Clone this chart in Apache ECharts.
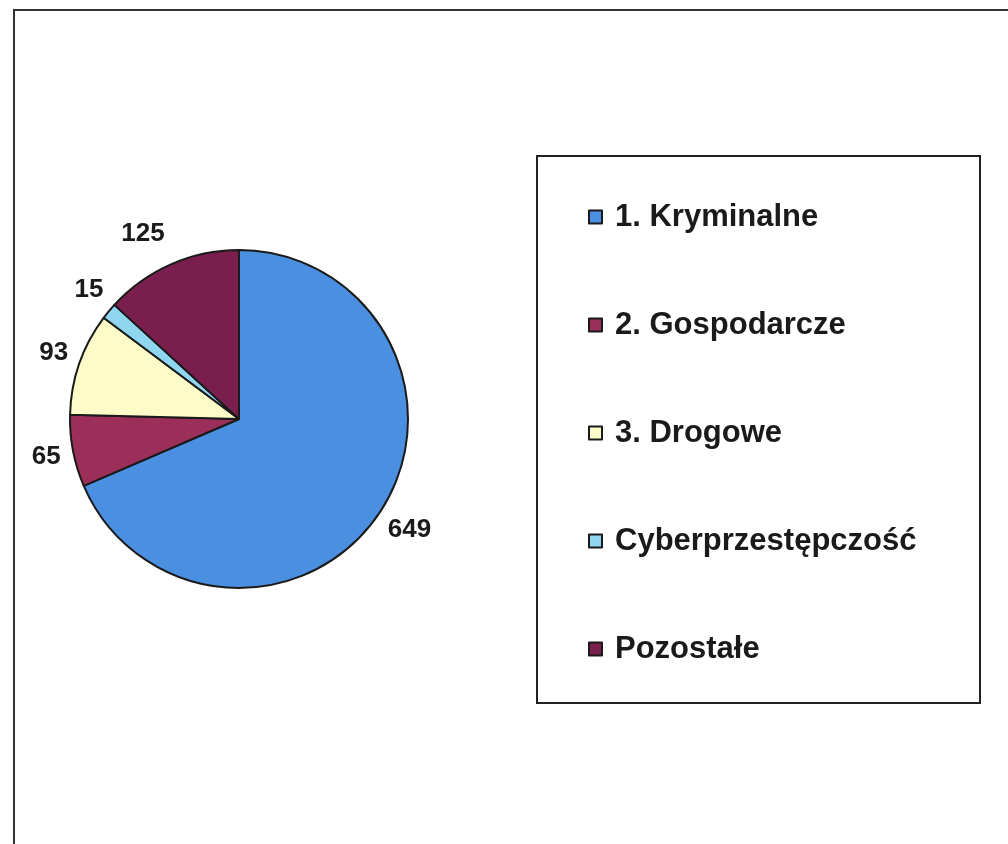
<!DOCTYPE html>
<html>
<head>
<meta charset="utf-8">
<script src="https://cdn.jsdelivr.net/npm/echarts@6/dist/echarts.min.js"></script>
<style>
  html, body { margin: 0; padding: 0; background: #fff; }
  #chart { width: 1008px; height: 844px; }
</style>
</head>
<body>
<div id="chart"></div>
<script>
const categories = ['1. Kryminalne', '2. Gospodarcze', '3. Drogowe', 'Cyberprzestępczość', 'Pozostałe']
const values = [649, 65, 93, 15, 125]
const colors = ['#4b8fe0', '#9c2f5a', '#fdfcc8', '#8fd6f0', '#7a1e4e']

const chart = echarts.init(document.getElementById('chart'))

chart.setOption({
  animation: false,
  color: colors,
  graphic: [
    // outer chart frame (runs off the right and bottom edges)
    { type: 'rect', shape: { x: 14, y: 10, width: 1100, height: 900 }, style: { fill: 'none', stroke: '#333', lineWidth: 2 } },
    // legend box
    { type: 'rect', shape: { x: 537, y: 156, width: 443, height: 547 }, style: { fill: 'none', stroke: '#222', lineWidth: 2 } },
  ],
  legend: {
    orient: 'vertical',
    left: 588,
    top: 201,
    padding: 0,
    itemGap: 76,
    itemWidth: 13,
    itemHeight: 13,
    icon: 'rect',
    selectedMode: false,
    itemStyle: { borderWidth: 2 },
    textStyle: {
      fontFamily: 'Liberation Sans, Arial, sans-serif',
      fontSize: 31,
      fontWeight: 'bold',
      color: '#1a1a1a',
      lineHeight: 32,
      padding: [0, 0, 0, 8],
    },
  },
  series: [{
    type: 'pie',
    center: [239, 419],
    radius: 169,
    startAngle: 90,
    clockwise: true,
    avoidLabelOverlap: false,
    itemStyle: { borderColor: '#1a1a1a', borderWidth: 2 },
    emphasis: { disabled: true },
    label: {
      show: true,
      position: 'outside',
      formatter: '{c}',
      fontFamily: 'Liberation Sans, Arial, sans-serif',
      fontSize: 26,
      fontWeight: 'bold',
      color: '#1a1a1a',
      padding: [5, 0, 0, 0],
      distanceToLabelLine: -20,
    },
    labelLine: { show: false, length: 33, length2: 0 },
    // the top-left label sits a little further out in the original
    data: categories.map((name, i) => ({
      name,
      value: values[i],
      label: i === 4 ? { distanceToLabelLine: -7 } : undefined,
    })),
  }],
})
</script>
</body>
</html>
